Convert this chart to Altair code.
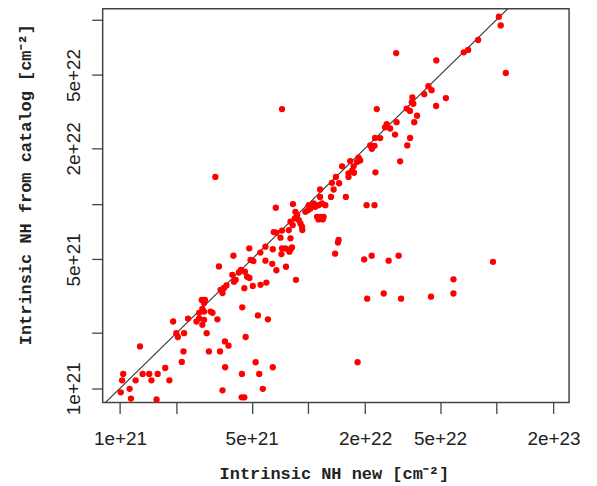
import altair as alt
import pandas as pd

# log10 of intrinsic NH (cm^-2)
LOG_NH_NEW = [
    21.004, 21.051, 21.058, 21.194, 21.011, 21.017, 21.083, 21.120, 21.155, 21.167,
    21.200, 21.240, 21.262, 21.106, 21.282, 21.299, 21.307, 21.340, 21.337, 21.328,
    21.361, 21.406, 21.420, 21.437, 21.446, 21.460, 21.517, 21.434, 21.451, 21.446,
    21.437, 21.420, 21.446, 21.481, 21.491, 21.472, 21.531, 21.557, 21.576, 21.667,
    21.649, 21.732, 21.785, 21.720, 21.811, 21.558, 21.647, 21.739, 21.544, 21.758,
    21.646, 21.660, 21.525, 21.534, 21.544, 21.552, 21.565, 21.596, 21.602, 21.631,
    21.642, 21.663, 21.675, 21.687, 21.614, 21.605, 21.660, 21.705, 21.746, 21.777,
    21.686, 21.693, 21.708, 21.745, 21.772, 21.772, 21.808, 21.830, 21.811, 21.881,
    21.934, 21.857, 21.899, 21.860, 21.878, 21.905, 21.913, 21.816, 21.830, 21.852,
    21.860, 21.896, 21.905, 21.917, 21.905, 21.928, 21.931, 21.940, 21.949, 21.958,
    21.966, 21.968, 21.827, 21.918, 21.984, 21.998, 22.011, 22.002, 22.028, 22.037,
    22.054, 22.072, 22.090, 22.046, 22.063, 22.081, 22.054, 22.076, 22.142, 22.160,
    22.157, 22.062, 22.062, 22.120, 22.125, 22.134, 22.163, 22.146, 22.179, 22.199,
    22.213, 22.213, 22.240, 22.242, 22.222, 22.231, 22.258, 22.266, 22.275, 22.309,
    22.351, 22.356, 22.296, 22.336, 22.426, 22.479, 22.980, 22.770, 22.312, 22.400,
    22.492, 22.651, 22.770, 22.261, 22.328, 22.337, 22.351, 22.354, 22.381, 22.407,
    22.416, 22.434, 22.460, 22.468, 22.363, 22.487, 22.525, 22.540, 22.522, 22.539,
    22.549, 22.552, 22.557, 22.562, 22.577, 22.615, 22.637, 22.654, 22.678, 22.730,
    22.679, 22.466, 22.825, 22.848, 22.901, 23.011, 23.021, 23.048, 21.860, 21.506,
]
LOG_NH_CAT = [
    20.978, 20.997, 20.944, 20.939, 21.043, 21.078, 21.043, 21.078, 21.078, 21.043,
    21.078, 21.110, 21.043, 21.227, 21.362, 21.299, 21.278, 21.299, 21.200, 21.143,
    21.378, 21.362, 21.379, 21.344, 21.371, 21.299, 21.374, 21.479, 21.479, 21.462,
    21.431, 21.409, 21.416, 21.416, 21.409, 21.200, 21.200, 21.254, 21.231, 21.278,
    21.439, 21.395, 21.374, 21.141, 21.114, 21.114, 21.078, 21.078, 20.989, 20.997,
    20.951, 20.951, 21.661, 21.534, 21.516, 21.544, 21.558, 21.615, 21.719, 21.628,
    21.642, 21.632, 21.605, 21.598, 21.588, 21.578, 21.543, 21.555, 21.561, 21.573,
    21.759, 21.696, 21.690, 21.736, 21.692, 21.768, 21.675, 21.640, 21.754, 21.659,
    21.588, 21.728, 21.741, 21.759, 21.758, 21.754, 21.764, 21.847, 21.844, 21.817,
    21.855, 21.858, 21.813, 21.885, 21.903, 21.921, 21.957, 21.939, 21.912, 21.894,
    21.876, 21.858, 21.979, 21.999, 21.957, 21.966, 21.975, 21.993, 22.002, 21.984,
    21.993, 22.002, 21.993, 21.930, 21.930, 21.930, 21.916, 21.916, 21.730, 21.804,
    21.790, 22.078, 22.038, 22.038, 22.114, 22.078, 22.112, 22.146, 22.204, 22.038,
    22.146, 22.166, 22.204, 22.169, 22.232, 22.179, 22.227, 22.251, 22.236, 21.993,
    21.993, 22.171, 21.699, 21.719, 21.692, 21.719, 21.686, 21.591, 21.486, 21.514,
    21.486, 21.497, 21.514, 21.141, 22.317, 22.299, 22.315, 22.358, 22.357, 22.415,
    22.432, 22.409, 22.376, 22.443, 22.514, 22.231, 22.317, 22.358, 22.517, 22.504,
    22.551, 22.577, 22.543, 22.443, 22.478, 22.595, 22.638, 22.617, 22.531, 22.574,
    22.778, 22.818, 22.822, 22.835, 22.889, 23.015, 22.968, 22.710, 22.514, 22.146,
]

X_TICKS = [1e21, 2e21, 5e21, 1e22, 2e22, 5e22, 1e23, 2e23]
X_LABELED = [1e21, 5e21, 2e22, 5e22, 2e23]
Y_TICKS = [1e21, 2e21, 5e21, 1e22, 2e22, 5e22, 1e23]
Y_LABELED = [1e21, 5e21, 2e22, 5e22]
X_DOMAIN = [8.09e20, 2.42e23]
Y_DOMAIN = [8.375e20, 1.143e23]
ONE_TO_ONE = [1e20, 1e24]

df = pd.DataFrame({
    "nh_new": [10 ** v for v in LOG_NH_NEW],
    "nh_cat": [10 ** v for v in LOG_NH_CAT],
})
df_line = pd.DataFrame({"nh_new": ONE_TO_ONE, "nh_cat": ONE_TO_ONE})


def label_expr(labeled):
    arr = "[" + ",".join(repr(v) for v in labeled) + "]"
    return f"indexof({arr}, datum.value) >= 0 ? format(datum.value, '.0e') : ''"


TITLE_FONT = "Liberation Mono"
LABEL_FONT = "Liberation Sans"

x_enc = alt.X(
    "nh_new:Q",
    scale=alt.Scale(type="log", domain=X_DOMAIN, nice=False, zero=False),
    axis=alt.Axis(
        values=X_TICKS, labelExpr=label_expr(X_LABELED), grid=False, domain=False,
        tickSize=11, tickColor="#444", tickWidth=1.3, labelPadding=16,
        labelFont=LABEL_FONT, labelFontSize=19, labelColor="#222",
        labelOverlap=False, labelFlush=False,
        title="Intrinsic NH new [cm⁻²]", titleFont=TITLE_FONT, titleFontSize=17,
        titleFontWeight="bold", titleColor="#222", titleX=232, titleY=76,
        titleAlign="center", titleBaseline="alphabetic",
    ),
)
y_enc = alt.Y(
    "nh_cat:Q",
    scale=alt.Scale(type="log", domain=Y_DOMAIN, nice=False, zero=False),
    axis=alt.Axis(
        values=Y_TICKS, labelExpr=label_expr(Y_LABELED), grid=False, domain=False,
        tickSize=11, tickColor="#444", tickWidth=1.3, labelPadding=8,
        labelFont=LABEL_FONT, labelFontSize=19, labelColor="#222",
        labelAngle=-90, labelAlign="center", labelBaseline="bottom",
        labelOverlap=False, labelFlush=False,
        title="Intrinsic NH from catalog [cm⁻²]", titleFont=TITLE_FONT, titleFontSize=17,
        titleFontWeight="bold", titleColor="#222", titleX=-72, titleY=176,
        titleAlign="center", titleBaseline="alphabetic", titleAngle=270,
    ),
)

line = alt.Chart(df_line).mark_line(clip=True, color="#333", strokeWidth=1.1).encode(
    x=x_enc, y=y_enc
)
points = alt.Chart(df).mark_circle(size=40, color="#ff0000", opacity=1).encode(
    x="nh_new:Q", y="nh_cat:Q"
)

chart = (
    alt.layer(line, points)
    .properties(
        width=468, height=395,
        autosize=alt.AutoSizeParams(type="none"),
        padding={"left": 95, "top": 0, "right": 20, "bottom": 80},
        background="white",
    )
    .configure_view(stroke="#444", strokeWidth=1.5)
)

chart.save("out.html", embed_options={"renderer": "svg", "actions": False})
